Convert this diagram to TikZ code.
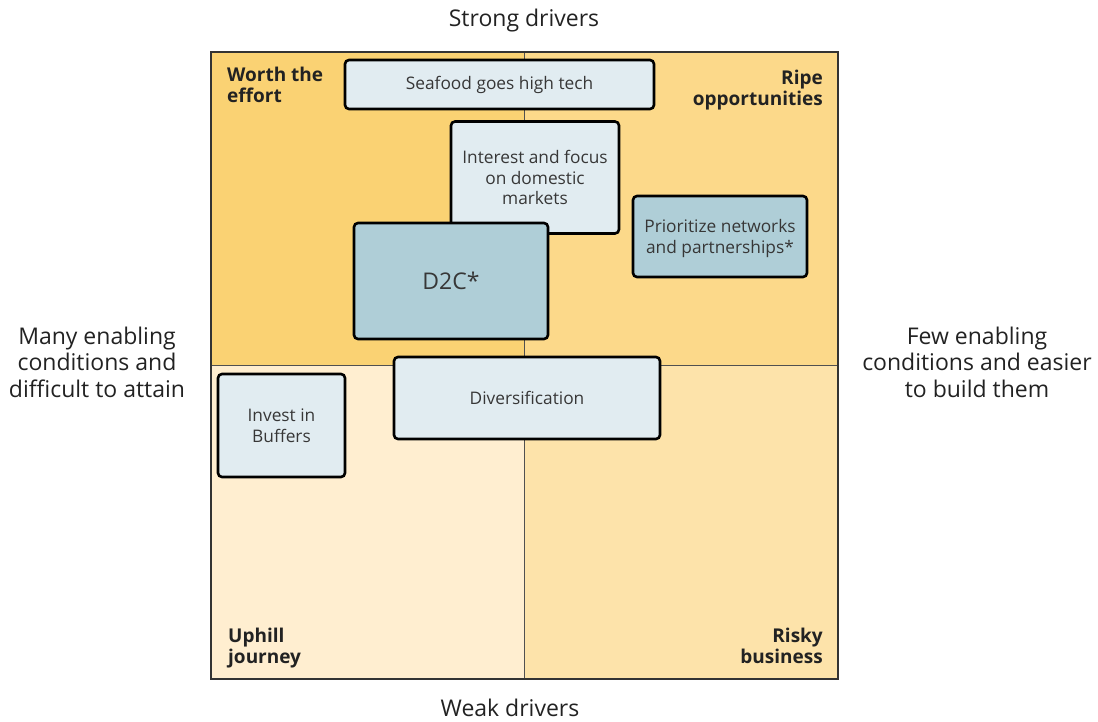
\documentclass[tikz,border=0pt]{standalone}
\usepackage{fontspec}
\setmainfont{Open Sans}
\begin{document}
\begin{tikzpicture}[x=1pt,y=-1pt,
  card/.style={draw=black, line width=2.6pt, rounded corners=4pt, fill=cardlight, text=txtgray, align=center, font=\fontsize{17.3}{20.5}\selectfont, inner sep=0pt},
  cardDark/.style={card, fill=carddark},
  qlabel/.style={font=\fontsize{19}{21}\selectfont\bfseries, text=lblgray, inner sep=0pt},
  axis/.style={font=\fontsize{23}{26.5}\selectfont, text=lblgray, align=center, inner sep=0pt}]
\definecolor{qTL}{RGB}{250,210,115}
\definecolor{qTR}{RGB}{252,217,138}
\definecolor{qBL}{RGB}{255,238,208}
\definecolor{qBR}{RGB}{253,227,170}
\definecolor{cardlight}{RGB}{225,236,241}
\definecolor{carddark}{RGB}{175,206,215}
\definecolor{txtgray}{RGB}{55,55,55}
\definecolor{lblgray}{RGB}{34,34,34}
\definecolor{midline}{RGB}{80,80,80}
\definecolor{frame}{RGB}{51,51,51}
\useasboundingbox (0,0) rectangle (1098,722);
% quadrants
\fill[qTL] (211,52) rectangle (524,365);
\fill[qTR] (524,52) rectangle (838,365);
\fill[qBL] (211,365) rectangle (524,679);
\fill[qBR] (524,365) rectangle (838,679);
\draw[line width=1pt, draw=midline] (524,52) -- (524,679);
\draw[line width=1pt, draw=midline] (211,365) -- (838,365);
\draw[line width=2pt, draw=frame] (211,52) rectangle (838,679);
% quadrant labels
\node[qlabel, anchor=west, align=left] (tl) at (227,84.5) {Worth the\\effort};
\node[qlabel, anchor=east, align=right] (tr) at (823,90) {Ripe\\opportunities};
\node[qlabel, anchor=west, align=left] (bl) at (228,648) {Uphill\\journey};
\node[qlabel, anchor=east, align=right] (br) at (823,645.5) {Risky\\business};
% axis labels
\node[axis] (top) at (524,20.5) {Strong drivers};
\node[axis] (bot) at (510,708) {Weak drivers};
\node[axis] (left) at (97,362) {Many enabling\\conditions and\\difficult to attain};
\node[axis] (right) at (977,362) {Few enabling\\conditions and easier\\to build them};
% cards
\node[card, minimum width=309pt, minimum height=49pt] (sea) at (499.5,84.5) {Seafood goes high tech};
\node[card, minimum width=168pt, minimum height=112pt] (int) at (535,177.5) {Interest and focus\\on domestic\\markets};
\node[cardDark, minimum width=174pt, minimum height=81pt] (net) at (720,236.5) {\rule{0pt}{17pt}Prioritize networks\\and partnerships*};
\node[cardDark, minimum width=194pt, minimum height=116pt, font=\fontsize{23}{26}\selectfont] (d2c) at (451,281) {D2C*};
\node[card, minimum width=266pt, minimum height=82pt] (div) at (527,398) {Diversification};
\node[card, minimum width=127pt, minimum height=103pt] (buf) at (281.5,425.5) {Invest in\\Buffers};
\end{tikzpicture}
\end{document}
